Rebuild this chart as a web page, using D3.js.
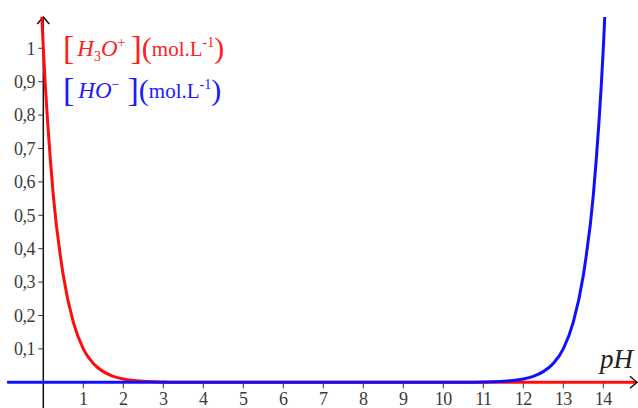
<!DOCTYPE html>
<html>
<head>
<meta charset="utf-8">
<script src="https://cdn.jsdelivr.net/npm/d3@7"></script>
<style>
	body{margin:0;background:#fff;}
	svg{display:block;}
</style>
</head>
<body>
<div class="c_chart"></div>
<script>
/*DATA
------------------------------------------------------
*/
// valeurs
const pHRed = [-0.1, 0, 0.25, 0.5, 0.75, 1, 1.25, 1.5, 1.75, 2, 2.5, 3, 3.5, 4, 6, 8, 10, 12, 14, 14.8];
const h3o   = [1.26, 1, 0.56, 0.32, 0.18, 0.1, 0.056, 0.032, 0.018, 0.01, 0.003, 0.001, 0.0003, 0.0001, 0, 0, 0, 0, 0, 0];

const pHBlue = [-0.9, 2, 4, 6, 8, 10, 10.5, 11, 11.5, 12, 12.25, 12.5, 12.75, 13, 13.25, 13.5, 13.75, 14, 14.1];
const ho     = [0, 0, 0, 0, 0, 0.0001, 0.0003, 0.001, 0.003, 0.01, 0.018, 0.032, 0.056, 0.1, 0.18, 0.32, 0.56, 1, 1.26];

const xTicks = [1,2,3,4,5,6,7,8,9,10,11,12,13,14];
const yTicks = [0.1,0.2,0.3,0.4,0.5,0.6,0.7,0.8,0.9,1];

/*SVG
------------------------------------------------------
*/
const width = 638, height = 408;
const serif = "Liberation Serif, DejaVu Serif, serif";
let svg = d3.select(".c_chart").append("svg")
	.attr("width", width)
	.attr("height", height);

let x = d3.scaleLinear().domain([0, 14]).range([43.3, 603.3]);
let y = d3.scaleLinear().domain([0, 1]).range([382.3, 48.3]);

const fmt = d => d === 1 ? "1" : d3.format(".1f")(d).replace(".", ",");

// clip des courbes en haut
svg.append("clipPath").attr("id", "clip")
	.append("rect").attr("x", 0).attr("y", 17).attr("width", width).attr("height", height - 17);

/*AXES
------------------------------------------------------
*/
const axisColor = "#111";
// axe y
svg.append("line")
	.attr("x1", x(0)).attr("x2", x(0))
	.attr("y1", height).attr("y2", 17)
	.attr("stroke", axisColor).attr("stroke-width", 1.5);
svg.append("path")
	.attr("d", `M${x(0)-6},${24} L${x(0)},${17} L${x(0)+6},${24}`)
	.attr("fill", "none").attr("stroke", axisColor).attr("stroke-width", 1.5);

// axe x
svg.append("line")
	.attr("x1", 7).attr("x2", 637)
	.attr("y1", y(0)).attr("y2", y(0))
	.attr("stroke", axisColor).attr("stroke-width", 1.5);
svg.append("path")
	.attr("d", `M${630},${y(0)-6} L${637},${y(0)} L${630},${y(0)+6}`)
	.attr("fill", "none").attr("stroke", axisColor).attr("stroke-width", 1.5);

// graduations y
svg.selectAll(".ytick").data(yTicks).enter().append("line")
	.attr("x1", x(0) - 5).attr("x2", x(0))
	.attr("y1", d => y(d)).attr("y2", d => y(d))
	.attr("stroke", "#333").attr("stroke-width", 1);
svg.selectAll(".ylab").data(yTicks).enter().append("text")
	.attr("x", 35).attr("y", d => y(d)).attr("dy", "0.35em")
	.attr("text-anchor", "end")
	.attr("font-family", serif)
	.attr("font-size", 18)
	.attr("fill", "#3a3a3a")
	.attr("letter-spacing", -0.5)
	.text(fmt);

// graduations x
svg.selectAll(".xtick").data(xTicks).enter().append("line")
	.attr("x1", d => x(d)).attr("x2", d => x(d))
	.attr("y1", y(0)).attr("y2", y(0) + 6)
	.attr("stroke", "#333").attr("stroke-width", 1);
svg.selectAll(".xlab").data(xTicks).enter().append("text")
	.attr("x", d => x(d)).attr("y", 405)
	.attr("text-anchor", "middle")
	.attr("font-family", serif)
	.attr("font-size", 18)
	.attr("fill", "#3a3a3a")
	.attr("letter-spacing", -0.5)
	.text(d => d);

/*COURBES
------------------------------------------------------
*/
let line = d3.line().curve(d3.curveMonotoneX);
let gCurves = svg.append("g").attr("clip-path", "url(#clip)");

gCurves.append("path")
	.datum(pHRed.map((p, i) => [x(p), y(h3o[i])]))
	.attr("d", line)
	.attr("fill", "none").attr("stroke", "#ff0d0d").attr("stroke-width", 3);

gCurves.append("path")
	.datum(pHBlue.map((p, i) => [x(p), y(ho[i])]))
	.attr("d", line)
	.attr("fill", "none").attr("stroke", "#1010ff").attr("stroke-width", 3);

/*LEGENDE
------------------------------------------------------
*/
let leg1 = svg.append("text").attr("font-family", serif).attr("font-size", 21)
	.attr("x", 63).attr("y", 56).attr("fill", "#ff2020");
leg1.append("tspan").attr("font-size", 34).attr("dy", 3).text("[");
leg1.append("tspan").attr("font-style", "italic").attr("font-size", 23).attr("dx", 3).attr("dy", -3).text("H");
leg1.append("tspan").attr("font-size", 14).attr("dy", 5).text("3");
leg1.append("tspan").attr("font-style", "italic").attr("font-size", 23).attr("dy", -5).text("O");
leg1.append("tspan").attr("font-size", 14).attr("dy", -9).text("+");
leg1.append("tspan").attr("font-size", 34).attr("dx", 5).attr("dy", 12).text("]");
leg1.append("tspan").attr("font-size", 30).attr("dy", -1).text("(");
leg1.append("tspan").attr("dy", -2).text("mol.L");
leg1.append("tspan").attr("font-size", 14).attr("dy", -9).text("-1");
leg1.append("tspan").attr("font-size", 30).attr("dy", 11).text(")");

let leg2 = svg.append("text").attr("font-family", serif).attr("font-size", 21)
	.attr("x", 63).attr("y", 98).attr("fill", "#1a1aff");
leg2.append("tspan").attr("font-size", 34).attr("dy", 3).text("[");
leg2.append("tspan").attr("font-style", "italic").attr("font-size", 23).attr("dx", 4).attr("dy", -3).text("HO");
leg2.append("tspan").attr("font-size", 14).attr("dy", -9).text("\u2212");
leg2.append("tspan").attr("font-size", 34).attr("dx", 8).attr("dy", 12).text("]");
leg2.append("tspan").attr("font-size", 30).attr("dy", -1).text("(");
leg2.append("tspan").attr("dy", -2).text("mol.L");
leg2.append("tspan").attr("font-size", 14).attr("dy", -9).text("-1");
leg2.append("tspan").attr("font-size", 30).attr("dy", 11).text(")");

// titre axe x
svg.append("text")
	.attr("x", 633).attr("y", 368)
	.attr("text-anchor", "end")
	.attr("font-family", serif)
	.attr("font-style", "italic")
	.attr("font-size", 27)
	.attr("fill", "#222")
	.text("pH");
</script>
</body>
</html>
